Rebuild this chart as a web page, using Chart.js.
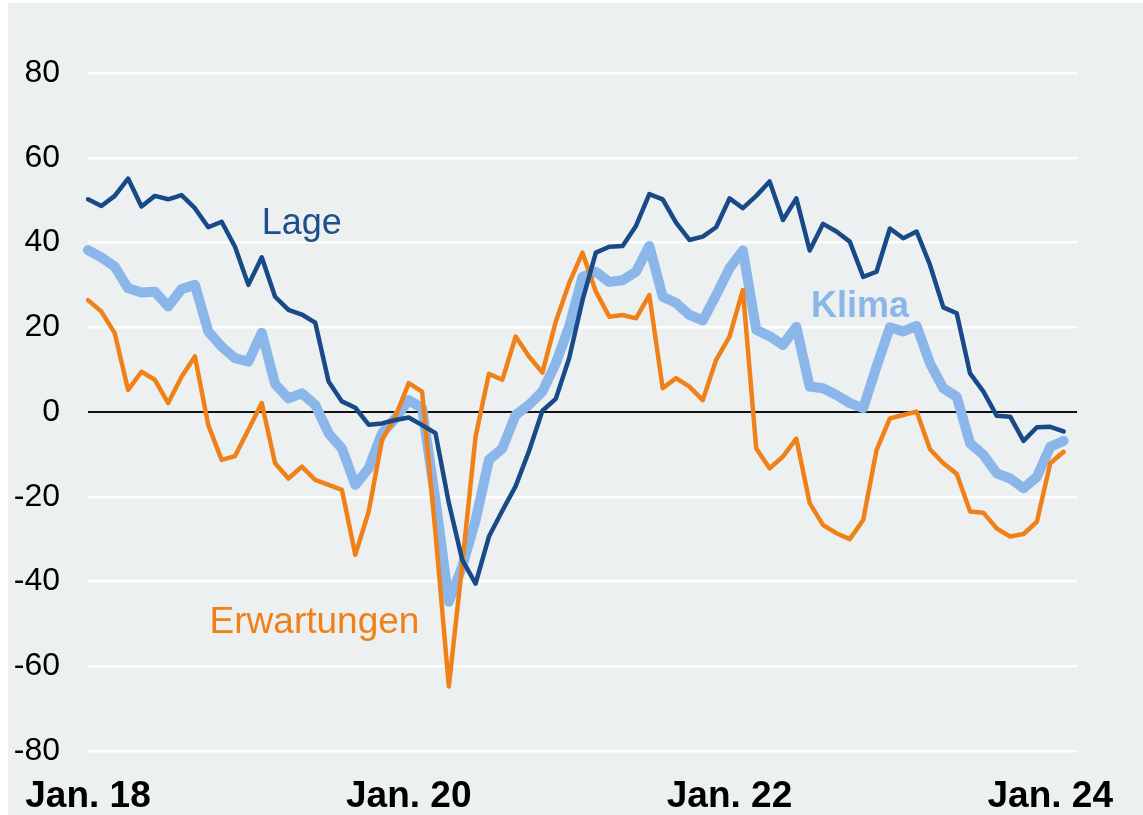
<!DOCTYPE html>
<html lang="de">
<head>
<meta charset="utf-8">
<title>Geschäftsklima</title>
<script src="https://cdn.jsdelivr.net/npm/chart.js@4.4.1/dist/chart.umd.min.js"></script>
<style>
  html, body { margin: 0; padding: 0; background: #fff; }
  canvas { display: block; }
</style>
</head>
<body>
<canvas id="klima-chart" width="1143" height="815"></canvas>
<script>
"use strict";

// Monthly values, Jan. 2018 - Feb. 2024
const lage = [
  50.2, 48.6, 51.0, 55.1, 48.5, 51.0, 50.2, 51.2, 48.1, 43.6,
  44.9, 39.0, 30.0, 36.5, 27.2, 24.1, 23.0, 21.1, 7.2, 2.5,
  1.0, -3.0, -2.7, -1.9, -1.3, -3.1, -5.0, -21.5, -34.9, -40.5,
  -29.4, -23.3, -17.5, -9.2, 0.3, 3.1, 12.7, 26.4, 37.6, 39.0,
  39.2, 43.9, 51.4, 50.2, 44.7, 40.6, 41.4, 43.6, 50.4, 48.1,
  51.0, 54.4, 45.3, 50.4, 38.1, 44.4, 42.6, 40.2, 31.9, 33.1,
  43.3, 41.0, 42.6, 34.7, 24.7, 23.3, 9.1, 4.8, -0.9, -1.1,
  -6.8, -3.6, -3.5, -4.6
];
const klima = [
  38.2, 36.5, 34.3, 29.2, 28.2, 28.4, 24.9, 29.0, 30.0, 19.0,
  15.4, 12.7, 11.9, 18.7, 6.6, 3.2, 4.4, 1.7, -5.0, -8.6,
  -17.2, -13.3, -5.0, -1.5, 2.8, 0.9, -20.8, -44.8, -36.5, -25.5,
  -11.3, -8.6, -0.7, 1.7, 4.8, 11.5, 20.1, 31.9, 33.1, 30.7,
  31.1, 33.1, 39.2, 27.2, 25.7, 22.9, 21.6, 27.6, 33.9, 38.1,
  19.4, 17.9, 15.8, 20.1, 6.0, 5.6, 4.0, 2.1, 0.9, 10.7,
  20.0, 19.0, 20.3, 11.5, 5.6, 3.6, -7.4, -10.1, -14.5, -15.7,
  -18.0, -15.3, -8.2, -6.8
];
const erwartungen = [
  26.4, 23.7, 18.6, 5.2, 9.5, 7.6, 2.1, 8.3, 13.1, -3.1,
  -11.3, -10.4, -4.2, 2.1, -12.1, -15.7, -12.9, -16.0, -17.2, -18.4,
  -33.7, -23.5, -6.6, -1.1, 6.8, 4.8, -28.6, -64.8, -36.0, -5.8,
  9.0, 7.6, 17.8, 13.1, 9.3, 21.3, 30.4, 37.6, 28.4, 22.5,
  22.9, 22.1, 27.6, 5.6, 8.0, 6.0, 2.8, 12.3, 17.8, 28.8,
  -8.6, -13.3, -10.5, -6.3, -21.5, -26.7, -28.6, -30.0, -25.5, -9.0,
  -1.5, -0.7, 0.1, -8.8, -12.1, -14.6, -23.5, -23.8, -27.5, -29.4,
  -28.8, -25.9, -12.1, -9.4
];
const tickLabels = ['Jan. 18', 'Jan. 20', 'Jan. 22', 'Jan. 24'];

// month categories; the axis runs one month past the last value
const monthNames = ['Jan.', 'Feb.', 'Mär.', 'Apr.', 'Mai', 'Jun.', 'Jul.', 'Aug.', 'Sep.', 'Okt.', 'Nov.', 'Dez.'];
const months = [];
for (let i = 0; i <= lage.length; i++) {
  months.push(monthNames[i % 12] + ' ' + (18 + Math.floor(i / 12)));
}

const FONT = '"Liberation Sans", Arial, Helvetica, sans-serif';

// panel background + series names
const panelPlugin = {
  id: 'panel',
  beforeDraw(chart) {
    const ctx = chart.ctx;
    ctx.save();
    ctx.fillStyle = '#ffffff';
    ctx.fillRect(0, 0, chart.width, chart.height);
    ctx.fillStyle = '#ecf0f1';
    ctx.fillRect(8, 3, chart.width - 8, chart.height - 3);
    ctx.restore();
  },
  afterDatasetsDraw(chart, args, opts) {
    const ctx = chart.ctx;
    const x = chart.scales.x;
    const y = chart.scales.y;
    ctx.save();
    ctx.textBaseline = 'alphabetic';
    ctx.textAlign = 'left';
    opts.labels.forEach(l => {
      ctx.font = (l.bold ? 'bold ' : '') + l.size + 'px ' + FONT;
      ctx.fillStyle = l.color;
      ctx.fillText(l.text, x.getPixelForValue(l.at), y.getPixelForValue(l.value));
    });
    ctx.restore();
  }
};

let options = {
  type: 'line',
  data: {
    labels: months,
    datasets: [{
      label: 'Lage',
      data: lage,
      borderColor: '#174a87',
      borderWidth: 4.5,
      order: 1
    }, {
      label: 'Erwartungen',
      data: erwartungen,
      borderColor: '#f08119',
      borderWidth: 4.5,
      order: 2
    }, {
      label: 'Klima',
      data: klima,
      borderColor: '#8ab6ea',
      borderWidth: 10,
      order: 3
    }]
  },
  options: {
    responsive: false,
    animation: false,
    devicePixelRatio: 1,
    layout: {
      padding: { top: 73, right: 66, left: 0, bottom: 0 }
    },
    elements: {
      point: { radius: 0 },
      line: { tension: 0, borderJoinStyle: 'round', borderCapStyle: 'round' }
    },
    plugins: {
      legend: { display: false },
      tooltip: { enabled: false },
      panel: {
        labels: [
          { text: 'Lage', color: '#1d4f8b', bold: false, size: 36, at: 13.0, value: 42.0 },
          { text: 'Klima', color: '#8db6e8', bold: true, size: 36, at: 54.1, value: 22.4 },
          { text: 'Erwartungen', color: '#f08119', bold: false, size: 37, at: 9.1, value: -52.2 }
        ]
      }
    },
    scales: {
      x: {
        offset: false,
        border: { display: false },
        grid: { display: false, drawTicks: false },
        afterFit: scale => { scale.height = 64; },
        ticks: {
          autoSkip: false,
          maxRotation: 0,
          minRotation: 0,
          padding: 24,
          color: '#000',
          font: { family: FONT, size: 37, weight: 'bold' },
          callback: function (value) {
            let label = this.getLabelForValue(value);
            return tickLabels.includes(label) ? label : '';
          }
        }
      },
      y: {
        min: -80,
        max: 80,
        border: { display: false },
        afterFit: scale => { scale.width = 88; },
        grid: {
          drawTicks: false,
          color: ctx => ctx.tick && ctx.tick.value === 0 ? '#111111' : '#ffffff',
          lineWidth: ctx => ctx.tick && ctx.tick.value === 0 ? 2 : 2.5
        },
        ticks: {
          stepSize: 20,
          padding: 28,
          color: '#000',
          font: { family: FONT, size: 32 }
        }
      }
    }
  },
  plugins: [panelPlugin]
};

let chart = new Chart(document.getElementById('klima-chart').getContext('2d'), options);
</script>
</body>
</html>
